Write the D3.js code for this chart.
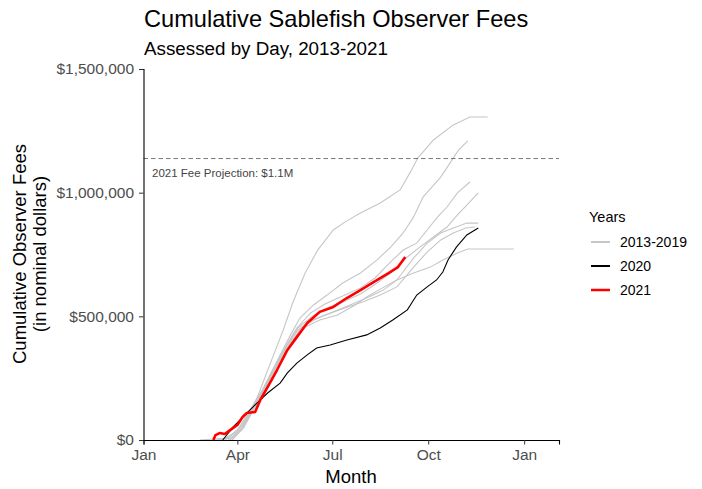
<!DOCTYPE html>
<html>
<head>
<meta charset="utf-8">
<script src="https://cdn.jsdelivr.net/npm/d3@7"></script>
<style>
  body { margin: 0; background: #fff; }
  text { font-family: "Liberation Sans", Arial, sans-serif; }
</style>
</head>
<body>
<div id="chart"></div>
<script>
// day of year, thousands of dollars
const anos1319 = [
  [[69,0],[85,8],[97,61],[110,182],[124,336],[134,445],[143,554],[155,675],[167,768],[182,849],[193,881],[208,918],[227,958],[246,1011],[256,1084],[263,1140],[278,1213],[297,1274],[313,1306],[330,1306]],
  [[54,0],[81,8],[95,61],[107,142],[119,243],[131,344],[141,425],[150,493],[163,546],[176,586],[191,635],[208,675],[224,728],[237,780],[249,837],[259,902],[268,982],[285,1063],[302,1172],[311,1209]],
  [[78,0],[91,40],[102,113],[114,194],[124,283],[136,376],[147,453],[160,513],[174,550],[191,582],[208,615],[222,655],[237,720],[249,768],[262,796],[272,849],[282,902],[291,942],[301,999],[313,1043]],
  [[81,0],[93,40],[104,121],[115,202],[126,295],[138,384],[148,453],[162,501],[176,534],[191,558],[208,590],[224,635],[238,679],[253,740],[265,780],[278,821],[291,861],[301,910],[310,950],[321,999]],
  [[83,0],[95,49],[106,129],[117,210],[128,303],[141,392],[152,457],[167,493],[182,518],[198,546],[214,574],[230,606],[243,647],[259,736],[272,796],[285,837],[297,857],[310,877],[321,877]],
  [[75,0],[89,32],[102,121],[114,202],[125,291],[137,376],[148,445],[162,485],[177,509],[193,534],[210,558],[227,586],[243,619],[259,699],[272,760],[285,809],[297,837],[309,857],[318,861]],
  [[85,0],[96,49],[108,142],[119,230],[131,323],[143,404],[155,457],[169,485],[186,505],[203,546],[214,578],[227,610],[243,647],[259,675],[275,699],[287,728],[301,756],[311,772],[355,772]]
]
const ano2020 = [[76,0],[86,53],[99,109],[109,150],[119,190],[131,230],[138,271],[147,311],[157,344],[166,372],[179,384],[195,404],[214,425],[227,453],[239,485],[253,526],[262,586],[272,619],[281,647],[287,679],[292,728],[300,780],[310,829],[321,857]]
const ano2021 = [[67,0],[69,20],[73,28],[78,24],[83,40],[90,61],[95,93],[99,109],[107,113],[112,162],[119,214],[128,283],[138,364],[147,416],[157,473],[169,518],[182,538],[195,574],[208,606],[221,639],[235,675],[244,699],[251,740]]

const proyeccion = 1138000
const mesesDias = [0, 90, 181, 273, 365]
const mesesNombres = ["Jan", "Apr", "Jul", "Oct", "Jan"]
const yTicks = [0, 500000, 1000000, 1500000]
const leyenda = [
  {nombre: "2013-2019", color: "#c6c6c6", ancho: 2},
  {nombre: "2020", color: "#000000", ancho: 2},
  {nombre: "2021", color: "#ff0000", ancho: 2.5}
]

const ancho = 702
const alto = 489

const svg = d3.select("#chart").append("svg").attr("width", ancho).attr("height", alto)

const x = d3.scaleLinear().domain([0, 398.4]).range([143.5, 559])
const y = d3.scaleLinear().domain([0, 1500000]).range([440, 69])

const linea = d3.line()
  .x(d => x(d[0]))
  .y(d => y(d[1] * 1000))

// lineas
const grupoLineas = svg.append("g")
grupoLineas.selectAll(".gris").data(anos1319).enter().append("path")
  .attr("d", linea)
  .attr("fill", "none")
  .attr("stroke", "#c6c6c6")
  .attr("stroke-width", 1.1)

grupoLineas.append("path").datum(ano2020)
  .attr("d", linea).attr("fill", "none")
  .attr("stroke", "#000").attr("stroke-width", 1.1)

grupoLineas.append("path").datum(ano2021)
  .attr("d", linea).attr("fill", "none")
  .attr("stroke", "#ff0000").attr("stroke-width", 2.6)
  .attr("stroke-linejoin", "round")

// proyeccion
svg.append("line")
  .attr("x1", x(0)).attr("x2", x(398.4))
  .attr("y1", y(proyeccion)).attr("y2", y(proyeccion))
  .attr("stroke", "#555").attr("stroke-width", 0.8)
  .attr("stroke-dasharray", "4.5,3")

svg.append("text")
  .attr("x", 152).attr("y", y(proyeccion) + 18)
  .attr("font-size", 11.5).attr("fill", "#444")
  .text("2021 Fee Projection: $1.1M")

// ejes
const ejeX = d3.axisBottom(x).tickValues(mesesDias)
  .tickFormat((d, i) => mesesNombres[i]).tickSizeOuter(0).tickSize(4.5).tickPadding(4)
const ejeY = d3.axisLeft(y).tickValues(yTicks)
  .tickFormat(d => "$" + d3.format(",")(d)).tickSizeOuter(0).tickSize(4.5).tickPadding(5)

const grupoX = svg.append("g").attr("transform", "translate(0,440)").call(ejeX)
const grupoY = svg.append("g").attr("transform", "translate(143.5,0)").call(ejeY)

;[grupoX, grupoY].forEach(g => {
  g.select(".domain").attr("stroke", "#000").attr("stroke-width", 1.1)
  g.selectAll(".tick line").attr("stroke", "#333").attr("stroke-width", 1)
  g.selectAll(".tick text").attr("font-size", 15.5).attr("fill", "#4d4d4d")
    .attr("font-family", "Liberation Sans, Arial, sans-serif")
})

// titulos
svg.append("text").attr("x", 144).attr("y", 27)
  .attr("font-size", 23.6).attr("fill", "#000")
  .text("Cumulative Sablefish Observer Fees")
svg.append("text").attr("x", 144).attr("y", 55)
  .attr("font-size", 18.8).attr("fill", "#000")
  .text("Assessed by Day, 2013-2021")

svg.append("text").attr("x", 351).attr("y", 483)
  .attr("text-anchor", "middle").attr("font-size", 18.5)
  .text("Month")

const tituloY = svg.append("text")
  .attr("transform", "translate(26,254) rotate(-90)")
  .attr("text-anchor", "middle").attr("font-size", 18.5)
tituloY.append("tspan").attr("x", 0).attr("dy", 0).text("Cumulative Observer Fees")
tituloY.append("tspan").attr("x", 0).attr("dy", 20).text("(in nominal dollars)")

// leyenda
const grupoLeyenda = svg.append("g").attr("transform", "translate(589,0)")
grupoLeyenda.append("text").attr("x", 0).attr("y", 222)
  .attr("font-size", 14.5).attr("fill", "#000").text("Years")

const items = grupoLeyenda.selectAll(".item").data(leyenda).enter().append("g")
  .attr("transform", (d, i) => `translate(0, ${242 + i * 24})`)
items.append("line").attr("x1", 2).attr("x2", 21).attr("y1", 0).attr("y2", 0)
  .attr("stroke", d => d.color).attr("stroke-width", d => d.ancho)
items.append("text").attr("x", 31).attr("y", 5)
  .attr("font-size", 14).attr("fill", "#000").text(d => d.nombre)
</script>
</body>
</html>
